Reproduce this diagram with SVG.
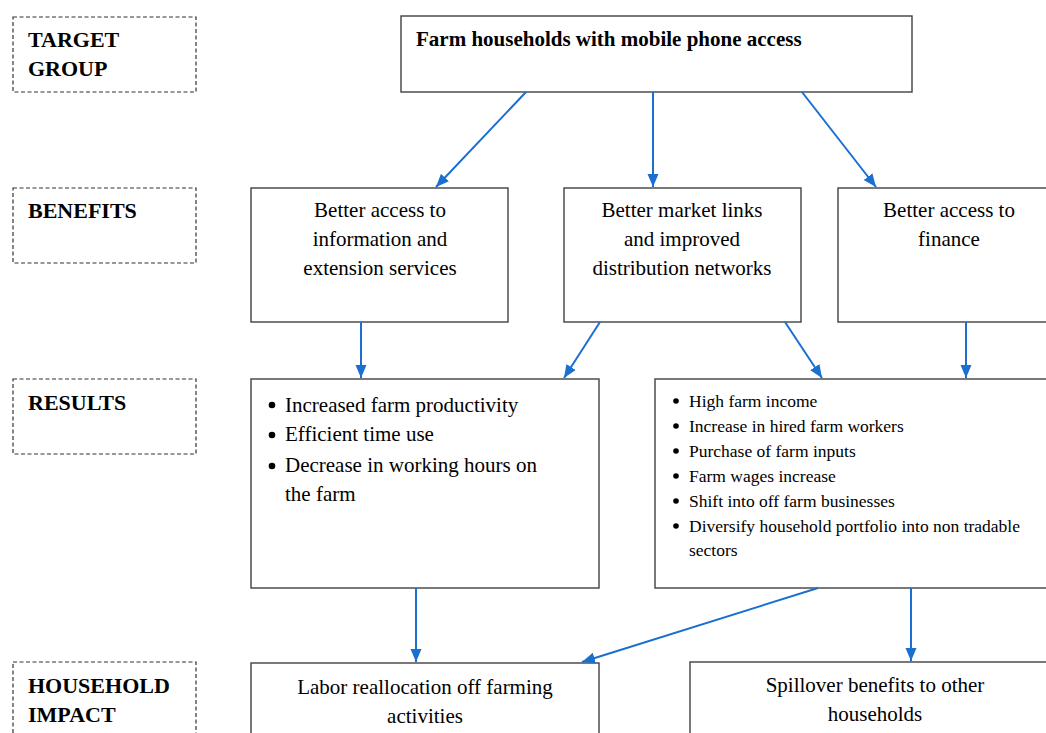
<svg xmlns="http://www.w3.org/2000/svg" width="1046" height="733" viewBox="0 0 1046 733">
<style>
.lbl{fill:none;stroke:#333;stroke-width:1.2;stroke-dasharray:4 2.5}
.box{fill:#fff;stroke:#404040;stroke-width:1.4}
text{font-family:'Liberation Serif','Times New Roman',Tinos,'DejaVu Serif',serif;fill:#000}
.lt{font-weight:bold;font-size:22px}
.bt{font-size:21px}
.st{font-size:17.5px}
.c{text-anchor:middle}
.conn line{stroke:#1a6fd0;stroke-width:2;marker-end:url(#ah)}
</style>
<defs>
<marker id="ah" markerUnits="userSpaceOnUse" markerWidth="14" markerHeight="14" viewBox="0 0 14 14" refX="13" refY="7" orient="auto">
<path d="M0,1.5 L13,7 L0,12.5 Z" fill="#1a6fd0"/>
</marker>
</defs>
<rect width="1046" height="733" fill="#fff"/>
<g id="label-target"><rect class="lbl" x="13" y="17" width="183" height="75"/><text class="lt" x="28" y="47">TARGET</text><text class="lt" x="28" y="76">GROUP</text></g>
<g id="label-benefits"><rect class="lbl" x="13" y="188" width="183" height="75"/><text class="lt" x="28" y="218">BENEFITS</text></g>
<g id="label-results"><rect class="lbl" x="13" y="379" width="183" height="75"/><text class="lt" x="28" y="410">RESULTS</text></g>
<g id="label-impact"><rect class="lbl" x="13" y="662" width="183" height="80"/><text class="lt" x="28" y="693">HOUSEHOLD</text><text class="lt" x="28" y="722">IMPACT</text></g>
<g id="target"><rect class="box" x="401" y="16" width="511" height="76"/><text class="lt" x="416" y="46" style="font-size:21px">Farm households with mobile phone access</text></g>
<g id="benefit-info"><rect class="box" x="251" y="188" width="257" height="134"/><text class="bt c" x="380" y="217">Better access to</text><text class="bt c" x="380" y="246">information and</text><text class="bt c" x="380" y="275">extension services</text></g>
<g id="benefit-market"><rect class="box" x="564" y="188" width="237" height="134"/><text class="bt c" x="682" y="217">Better market links</text><text class="bt c" x="682" y="246">and improved</text><text class="bt c" x="682" y="275">distribution networks</text></g>
<g id="benefit-finance"><rect class="box" x="838" y="188" width="222" height="134"/><text class="bt c" x="949" y="217">Better access to</text><text class="bt c" x="949" y="246">finance</text></g>
<g id="result-productivity"><rect class="box" x="251" y="379" width="348" height="209"/>
<circle cx="272" cy="405" r="3.3"/><text class="bt" x="285" y="412">Increased farm productivity</text>
<circle cx="272" cy="435" r="3.3"/><text class="bt" x="285" y="441">Efficient time use</text>
<circle cx="272" cy="466" r="3.3"/><text class="bt" x="285" y="472">Decrease in working hours on</text>
<text class="bt" x="285" y="501">the farm</text></g>
<g id="result-income"><rect class="box" x="655" y="379" width="405" height="209"/>
<circle cx="676" cy="401" r="2.8"/><text class="st" x="689" y="407">High farm income</text>
<circle cx="676" cy="426" r="2.8"/><text class="st" x="689" y="432">Increase in hired farm workers</text>
<circle cx="676" cy="451" r="2.8"/><text class="st" x="689" y="457">Purchase of farm inputs</text>
<circle cx="676" cy="476" r="2.8"/><text class="st" x="689" y="482">Farm wages increase</text>
<circle cx="676" cy="501" r="2.8"/><text class="st" x="689" y="507">Shift into off farm businesses</text>
<circle cx="676" cy="526" r="2.8"/><text class="st" x="689" y="532">Diversify household portfolio into non tradable</text>
<text class="st" x="689" y="556">sectors</text></g>
<g id="impact-labor"><rect class="box" x="251" y="663" width="348" height="80"/><text class="bt c" x="425" y="694">Labor reallocation off farming</text><text class="bt c" x="425" y="723">activities</text></g>
<g id="impact-spillover"><rect class="box" x="690" y="662" width="370" height="80"/><text class="bt c" x="875" y="692">Spillover benefits to other</text><text class="bt c" x="875" y="721">households</text></g>
<g id="connectors" class="conn">
<line x1="526" y1="92" x2="436" y2="187"/>
<line x1="653" y1="92" x2="653" y2="187"/>
<line x1="802" y1="92" x2="876" y2="187"/>
<line x1="361" y1="322" x2="361" y2="378"/>
<line x1="600" y1="322" x2="564" y2="378"/>
<line x1="785" y1="322" x2="822" y2="378"/>
<line x1="966" y1="322" x2="966" y2="378"/>
<line x1="416" y1="588" x2="416" y2="662"/>
<line x1="818" y1="588" x2="582" y2="662"/>
<line x1="911" y1="588" x2="911" y2="661"/>
</g>
</svg>
